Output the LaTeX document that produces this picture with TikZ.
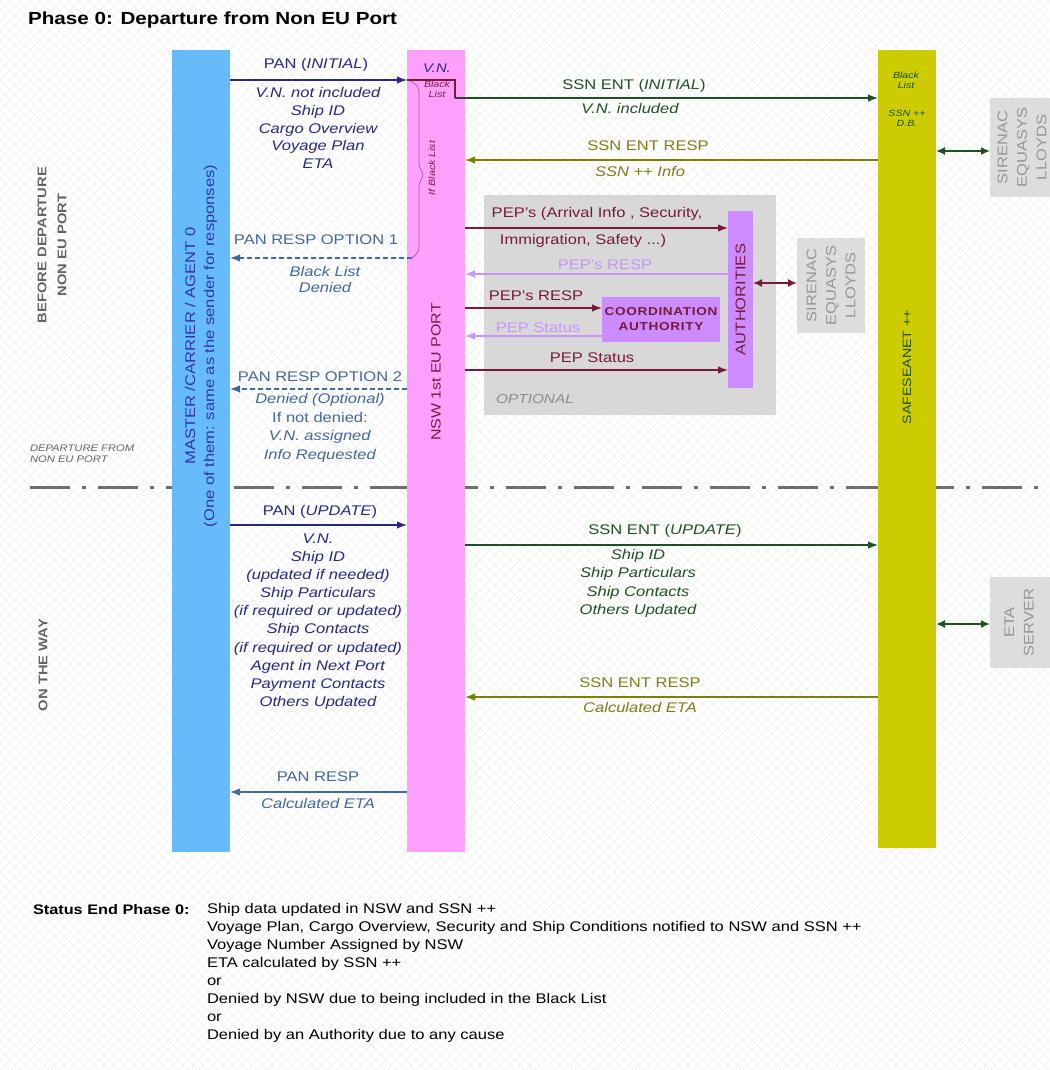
\documentclass[tikz,border=0pt]{standalone}
\usepackage{fontspec}
\setmainfont{Liberation Sans}[FakeStretch=1.18]
\newfontfamily\spacedfont{Liberation Sans}[FakeStretch=1.18, LetterSpace=6]
\usetikzlibrary{arrows.meta,patterns.meta}

\definecolor{mastblue}{RGB}{102,187,250}
\definecolor{nswpink}{RGB}{255,160,255}
\definecolor{ssnyellow}{RGB}{204,204,0}
\definecolor{optgray}{RGB}{216,216,216}
\definecolor{authpurple}{RGB}{204,140,255}
\definecolor{boxgray}{RGB}{221,221,221}
\definecolor{boxtext}{RGB}{150,150,150}
\definecolor{navy}{RGB}{40,40,130}
\definecolor{masttext}{RGB}{51,51,170}
\definecolor{steel}{RGB}{65,105,155}
\definecolor{dkgreen}{RGB}{30,80,35}
\definecolor{olive}{RGB}{128,128,0}
\definecolor{olivetext}{RGB}{125,125,25}
\definecolor{maroon}{RGB}{120,25,60}
\definecolor{lilac}{RGB}{200,150,250}
\definecolor{sidetext}{RGB}{100,100,100}
\definecolor{sepgray}{RGB}{110,110,110}
\definecolor{bracecol}{RGB}{150,100,160}

\begin{document}
\begin{tikzpicture}[x=1pt,y=-1pt,
  every node/.style={inner sep=0pt, outer sep=0pt},
  txt/.style={font=\fontsize{14}{18}\selectfont, align=center},
  itx/.style={font=\itshape\fontsize{14}{18}\selectfont, align=center},
  tip/.style={-{Latex[length=10pt,width=7.5pt]}},
  msg/.style={line width=1.3pt, tip},
  dmsg/.style={line width=1.3pt, dash pattern=on 5pt off 3pt, tip},
  link/.style={line width=1.6pt, {Latex[length=9pt,width=8pt]}-{Latex[length=9pt,width=8pt]}},
  lane/.style={minimum width=58pt},
  extbox/.style={fill=boxgray},
  exttext/.style={rotate=90, text=boxtext, font=\fontsize{14}{19.5}\selectfont, align=center},
  lanetext/.style={rotate=90, font=\fontsize{14}{19}\selectfont, align=center},
  tiny/.style={font=\itshape\fontsize{9}{10}\selectfont, align=center},
]
\useasboundingbox (0,0) rectangle (1049,1070);

% hatched paper
\fill[white] (0,0) rectangle (1049,1070);
\fill[pattern={Lines[angle=45,distance=7pt,line width=0.5pt]}, pattern color=gray!13] (0,0) rectangle (1049,1070);
\fill[pattern={Lines[angle=-45,distance=7pt,line width=0.5pt]}, pattern color=gray!13] (0,0) rectangle (1049,1070);

% title
\node[anchor=west, font=\bfseries\fontsize{17.5}{20}\selectfont] (title) at (28,20) {Phase 0: Departure from Non EU Port};

% phase separator
\coordinate (sepL) at (30,487);
\coordinate (sepR) at (1049,487);
\draw[sepgray, line width=3pt, dash pattern=on 40pt off 12pt on 4pt off 12pt] (sepL) -- (sepR);
\node[anchor=west, text=sidetext, font=\itshape\fontsize{9.5}{11}\selectfont, align=left] (deplbl) at (30,454) {DEPARTURE FROM\\NON EU PORT};

% side captions
\node[rotate=90, text=sidetext, font=\bfseries\fontsize{12.5}{20}\selectfont, align=center] (before) at (52,245) {BEFORE DEPARTURE\\NON EU PORT};
\node[rotate=90, text=sidetext, font=\bfseries\fontsize{12.5}{20}\selectfont] (onway) at (43,665) {ON THE WAY};

% lanes
\node[lane, fill=mastblue, minimum height=802pt] (master) at (201,451) {};
\node[lane, fill=nswpink, minimum height=802pt] (nsw) at (436,451) {};
\node[lane, fill=ssnyellow, minimum height=798pt] (ssn) at (907,449) {};

\node[lanetext, text=masttext] (mastername) at (201,346) {MASTER /CARRIER / AGENT 0\\(One of them: same as the sender for responses)};
\node[lanetext, text=maroon, font=\fontsize{13.5}{16}\selectfont] (nswname) at (436,372) {NSW 1st EU PORT};
\node[lanetext, text=dkgreen, font=\fontsize{12}{14}\selectfont] (ssnname) at (907,367) {SAFESEANET ++};

\node[text=navy, font=\itshape\fontsize{12.5}{14}\selectfont] (vn) at (437,68) {V.N.};
\node[tiny, text=maroon] (nswbl) at (437,89) {Black\\List};
\node[tiny, text=dkgreen] (ssnbl) at (906,80) {Black\\List};
\node[tiny, text=dkgreen] (ssndb) at (907,118) {SSN ++\\D.B.};

% optional authorities block
\node[fill=optgray, minimum width=292pt, minimum height=220pt] (optional) at (630,305) {};
\node[text=gray!90, font=\itshape\fontsize{13}{15}\selectfont] (optlbl) at (535,399) {OPTIONAL};
\node[fill=authpurple, minimum width=25pt, minimum height=177pt] (auth) at (740.5,299.5) {};
\node[rotate=90, text=maroon, font=\fontsize{14}{16}\selectfont] (authname) at (auth) {AUTHORITIES};
\node[fill=authpurple, minimum width=118pt, minimum height=45pt, text=maroon, font=\spacedfont\bfseries\fontsize{11.5}{15}\selectfont, align=center] (coord) at (661,319.5) {COORDINATION\\AUTHORITY};

% external systems
\node[extbox, minimum width=72pt, minimum height=99pt] (sir1) at (1026,147.5) {};
\node[exttext] (sir1txt) at (1022,147.5) {SIRENAC\\EQUASYS\\LLOYDS};
\node[extbox, minimum width=68pt, minimum height=95pt] (sir2) at (831,285.5) {};
\node[exttext] (sir2txt) at (831,285.5) {SIRENAC\\EQUASYS\\LLOYDS};
\node[extbox, minimum width=72pt, minimum height=91pt] (eta) at (1026,622.5) {};
\node[exttext] (etatxt) at (1019,622.5) {ETA\\SERVER};

\draw[link, dkgreen] (ssn.east |- 0,151) -- (sir1.west |- 0,151);
\draw[link, maroon] (auth.east |- 0,283) -- (sir2.west |- 0,283);
\draw[link, dkgreen] (ssn.east |- 0,624) -- (eta.west |- 0,624);

% ---- before departure ----
\draw[msg, navy] (master.east |- 0,80) -- (nsw.west |- 0,80);
\node[txt, text=navy] (panI) at (316,65) {PAN (\textit{INITIAL})};
\node[itx, text=navy, font=\itshape\fontsize{14}{17.75}\selectfont] (panIdata) at (318,128) {V.N. not included\\Ship ID\\Cargo Overview\\Voyage Plan\\ETA};

\coordinate (vnturn) at (455,98);
\draw[line width=1.3pt, maroon] (nsw.west |- 0,80) -- (vnturn |- 0,80) -- (vnturn);
\draw[msg, dkgreen] (vnturn) -- (ssn.west |- vnturn);
\node[txt, text=dkgreen] (ssnI) at (634,86) {SSN ENT (\textit{INITIAL})};
\node[itx, text=dkgreen] (ssnIdata) at (630,108) {V.N. included};

\draw[msg, olive] (ssn.west |- 0,160) -- (nsw.east |- 0,160);
\node[txt, text=olivetext] (ssnR) at (648,146) {SSN ENT RESP};
\node[itx, text=olivetext] (ssnRdata) at (640,171) {SSN ++ Info};

% black list check inside the single window
\coordinate (opt1) at (412,258);
\draw[bracecol, line width=0.7pt, rounded corners=5pt] (410,81) -- (419,86) -- (419,168) -- (425,175) -- (419,182) -- (419,252) -- (opt1);
\node[rotate=90, text=maroon, font=\itshape\fontsize{9}{10}\selectfont] (iflist) at (432,168) {If Black List};

\draw[dmsg, steel] (opt1) -- (master.east |- opt1);
\node[txt, text=steel] (opt1lbl) at (316,240) {PAN RESP OPTION 1};
\node[itx, text=steel, font=\itshape\fontsize{14}{16}\selectfont] (opt1data) at (325,279) {Black List\\Denied};

% PEP exchanges
\draw[msg, maroon] (nsw.east |- 0,228) -- (auth.west |- 0,228);
\node[txt, text=maroon] (pep) at (597,214) {PEP's (Arrival Info , Security,};
\node[txt, text=maroon] (pep2) at (583,241) {Immigration, Safety ...)};

\draw[msg, lilac] (auth.west |- 0,274) -- (nsw.east |- 0,274);
\node[txt, text=lilac] (peprespA) at (605,265) {PEP's RESP};

\draw[msg, maroon] (nsw.east |- 0,308) -- (coord.west |- 0,308);
\node[txt, text=maroon] (peprespB) at (536,296) {PEP's RESP};

\draw[msg, lilac] (coord.west |- 0,336) -- (nsw.east |- 0,336);
\node[txt, text=lilac] (pepstatA) at (538,328) {PEP Status};

\draw[msg, maroon] (nsw.east |- 0,370) -- (auth.west |- 0,370);
\node[txt, text=maroon] (pepstatB) at (592,358) {PEP Status};

\draw[dmsg, steel] (nsw.west |- 0,389) -- (master.east |- 0,389);
\node[txt, text=steel] (opt2lbl) at (320,377) {PAN RESP OPTION 2};
\node[txt, text=steel, font=\fontsize{14}{18.6}\selectfont] (opt2data) at (320,428) {\textit{Denied (Optional)}\\If not denied:\\\textit{V.N. assigned}\\\textit{Info Requested}};

% ---- on the way ----
\draw[msg, navy] (master.east |- 0,525) -- (nsw.west |- 0,525);
\node[txt, text=navy] (panU) at (320,512) {PAN (\textit{UPDATE})};
\node[itx, text=navy, font=\itshape\fontsize{14}{18.1}\selectfont] (panUdata) at (318,621.5) {V.N.\\Ship ID\\(updated if needed)\\Ship Particulars\\(if required or updated)\\Ship Contacts\\(if required or updated)\\Agent in Next Port\\Payment Contacts\\Others Updated};

\draw[msg, dkgreen] (nsw.east |- 0,545) -- (ssn.west |- 0,545);
\node[txt, text=dkgreen] (ssnU) at (665,531) {SSN ENT (\textit{UPDATE})};
\node[itx, text=dkgreen, font=\itshape\fontsize{14}{18.3}\selectfont] (ssnUdata) at (638,583.5) {Ship ID\\Ship Particulars\\Ship Contacts\\Others Updated};

\draw[msg, olive] (ssn.west |- 0,697) -- (nsw.east |- 0,697);
\node[txt, text=olivetext] (ssnR2) at (640,683) {SSN ENT RESP};
\node[itx, text=olivetext] (ssnR2data) at (640,707) {Calculated ETA};

\draw[msg, steel] (nsw.west |- 0,792) -- (master.east |- 0,792);
\node[txt, text=steel] (panR) at (318,777) {PAN RESP};
\node[itx, text=steel] (panRdata) at (318,803) {Calculated ETA};

% closing status
\node[anchor=west, font=\bfseries\fontsize{13.8}{18}\selectfont] (status) at (33,910) {Status End Phase 0:};
\node[anchor=north west, align=left, font=\fontsize{14}{18}\selectfont] (statlist) at (207,903) {Ship data updated in NSW and SSN ++\\Voyage Plan, Cargo Overview, Security and Ship Conditions notified to NSW and SSN ++\\Voyage Number Assigned by NSW\\ETA calculated by SSN ++\\or\\Denied by NSW due to being included in the Black List\\or\\Denied by an Authority due to any cause};

\end{tikzpicture}
\end{document}
